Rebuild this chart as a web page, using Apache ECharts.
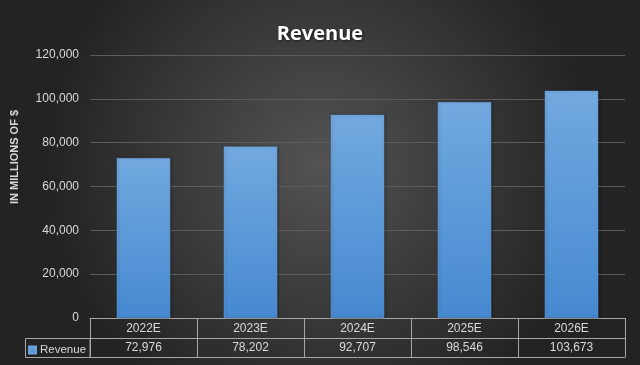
<!DOCTYPE html>
<html>
<head>
<meta charset="utf-8">
<script src="https://cdn.jsdelivr.net/npm/echarts@6/dist/echarts.min.js"></script>
<style>html,body{margin:0;padding:0;background:#2a2a2a}#c{width:640px;height:365px}</style>
</head>
<body>
<div id="c"></div>
<script>
const categories = ['2022E', '2023E', '2024E', '2025E', '2026E'];
const revenue = [72976, 78202, 92707, 98546, 103673];
const yTicks = { min: 0, max: 120000, interval: 20000 };

const fmt = v => v.toLocaleString('en-US');
const lineCol = '#a6a6a6';
const txtCol = '#d9d9d9';
const font = 'Liberation Sans';

const chart = echarts.init(document.getElementById('c'), null, { renderer: 'canvas' });
chart.setOption({
  backgroundColor: {
    type: 'radial', x: 0.5, y: 0.45, r: 0.75,
    colorStops: [{ offset: 0, color: '#535353' }, { offset: 1, color: '#232323' }]
  },
  animation: false,
  title: {
    text: 'Revenue', left: 'center', top: 19,
    textStyle: { color: '#ffffff', fontSize: 20, fontWeight: 'bold', fontFamily: 'Open Sans',
      textShadowColor: 'rgba(0,0,0,0.6)', textShadowBlur: 3, textShadowOffsetX: 1, textShadowOffsetY: 1 }
  },
  legend: {
    data: ['Revenue'], left: 28, top: 344, padding: 0, icon: 'rect', itemWidth: 7, itemHeight: 7, itemGap: 4,
    textStyle: { color: txtCol, fontSize: 11.5, fontFamily: font, padding: [0, 0, 0, -1] },
    selectedMode: false
  },
  grid: { left: 90, right: 15, top: 55, bottom: 47, containLabel: false },
  xAxis: [
    {
      type: 'category', data: categories, position: 'bottom',
      axisLine: { show: true, lineStyle: { color: lineCol, width: 1 } },
      axisTick: { show: true, length: 39, lineStyle: { color: lineCol } },
      axisLabel: { color: txtCol, fontSize: 12, fontFamily: font, margin: 5 }
    },
    {
      type: 'category', data: revenue.map(fmt), position: 'bottom', offset: 20,
      axisLine: { show: true, lineStyle: { color: lineCol, width: 1 } },
      axisTick: { show: false },
      axisLabel: { color: txtCol, fontSize: 12, fontFamily: font, margin: 4 }
    },
    {
      type: 'category', data: categories, position: 'bottom', offset: 39,
      axisLine: { show: true, lineStyle: { color: lineCol, width: 1 } },
      axisTick: { show: false },
      axisLabel: { show: false }
    }
  ],
  yAxis: {
    type: 'value', min: yTicks.min, max: yTicks.max, interval: yTicks.interval,
    axisLine: { show: false }, axisTick: { show: false },
    axisLabel: { color: txtCol, fontSize: 12, fontFamily: font, margin: 11, formatter: v => fmt(v) },
    splitLine: { lineStyle: { color: '#5c5c5c', width: 1 } }
  },
  series: [{
    name: 'Revenue', type: 'bar', xAxisIndex: 0, data: revenue, barWidth: '50%',
    itemStyle: {
      color: { type: 'linear', x: 0, y: 0, x2: 0, y2: 1,
        colorStops: [{ offset: 0, color: '#72a9df' }, { offset: 1, color: '#4689d1' }] },
      borderColor: '#6aa3dc', borderWidth: 0.5,
      shadowColor: 'rgba(0,0,0,0.35)', shadowBlur: 3, shadowOffsetX: 1, shadowOffsetY: 0
    }
  }],
  graphic: [
    {
      type: 'text',
      style: { text: 'IN MILLIONS OF $', fill: txtCol, font: 'bold 11px ' + font, textAlign: 'center', textVerticalAlign: 'middle' },
      rotation: Math.PI / 2, x: 15, y: 157
    },
    {
      type: 'rect', shape: { x: 25.5, y: 338.5, width: 64.5, height: 19 },
      style: { fill: 'none', stroke: lineCol, lineWidth: 1 }
    }
  ]
});
</script>
</body>
</html>
